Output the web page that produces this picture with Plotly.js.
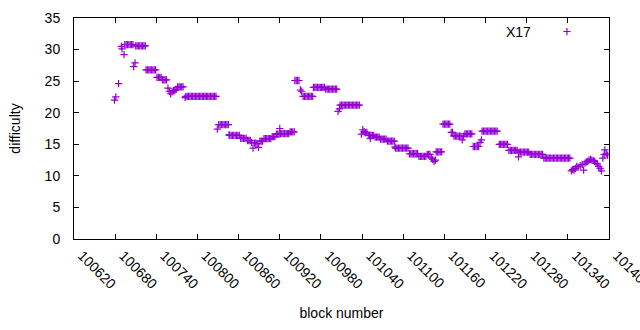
<!DOCTYPE html>
<html>
<head>
<meta charset="utf-8">
<script src="https://cdn.plot.ly/plotly-3.0.1.min.js"></script>
<style>html,body{margin:0;padding:0;background:#fff;}#chart{width:640px;height:330px;}</style>
</head>
<body>
<div id="chart"></div>
<script>
// block numbers (x) and difficulty (y)
var blocks = [
100679,100681,100685,100689,100690,100693,
100694,100696,100698,100700,100702,100704,100706,
100707,100709,
100710,100712,100714,100716,100718,100720,100722,100724,
100725,100727,100729,100731,100733,100735,100737,100739,
100741,100743,100745,100747,
100749,100751,100753,100755,
100757,100759,100761,100763,100765,100767,100769,
100771,100773,100775,100777,100779,
100782,
100783,100785,100787,100789,100791,100793,100795,100797,100799,100801,100803,100805,100807,100809,100811,100813,100815,100817,100819,100821,100823,100825,100827,
100829,
100831,100833,100835,100837,100839,100841,100843,100845,
100846,
100847,100849,100851,100853,100855,100857,100859,100861,
100863,100865,100867,100869,100871,
100873,100875,100877,100879,100881,100883,100885,100887,100889,100891,100893,100895,
100897,100899,100901,100903,100905,100907,
100909,100911,100913,
100915,100917,100919,100920,
100921,100923,100925,100927,100929,100931,100933,
100935,100937,100939,100941,
100942,100944,100946,100948,
100950,100952,
100954,100956,100958,100960,100962,100964,100966,100968,
100969,100971,100973,100975,100977,100979,100981,100983,100985,
100987,100989,100991,100993,100995,100997,100999,101001,101003,
101005,101007,
101008,101010,101012,101014,101016,101018,101020,101022,101024,101026,101028,101030,101032,101034,101036,
101039,101041,101043,101045,101047,
101049,101051,101052,101053,101055,101057,
101059,101061,101063,101065,
101067,101069,101071,101073,101075,
101077,101079,101081,101083,101085,101087,101088,
101089,101091,101093,101095,101097,101099,101101,101103,101105,101107,
101109,101111,101113,101115,101117,101119,101121,
101123,101125,101127,101129,101131,101133,
101135,101137,101139,
101141,101143,101145,101147,
101148,101150,101152,101154,101156,
101158,101160,101162,101164,101166,101168,
101170,101172,
101174,101176,101178,101180,101182,101184,101186,101188,
101190,101192,101194,101196,101198,101200,
101202,101204,101206,101208,101210,101212,101214,
101215,101217,101219,101221,101223,101225,101227,101229,101231,101233,101235,101237,
101240,101242,101244,101246,101248,101250,101252,
101254,101256,101258,101260,101262,101264,101266,
101268,
101269,101271,101273,101275,101277,101279,101281,101283,
101285,101287,101289,101291,101293,101295,101297,101299,101301,101303,
101305,101307,101309,101311,101313,101315,101317,101319,101321,101323,101325,101327,101329,101331,101333,101335,101337,101339,101341,101343,
101345,101347,101349,101351,101353,101355,101358,101361,101363,
101365,101367,101369,101371,101373,101375,101377,101379,101381,101383,101385,101387,101389,
101391,101393,101394,101396,101398
];
var difficulty = [
22.0,22.5,24.6,30.5,30.1,29.2,
30.8,30.8,30.8,30.8,30.8,30.8,30.8,
27.3,27.9,
30.6,30.6,30.6,30.6,30.6,30.6,30.6,30.6,
26.8,26.8,26.8,26.8,26.8,26.8,26.8,26.8,
25.6,25.6,25.6,25.6,
25.2,25.2,25.2,25.2,
23.9,23.4,23.0,23.3,23.5,23.5,23.7,
24.1,24.1,24.1,24.1,24.1,
22.4,
22.6,22.6,22.6,22.6,22.6,22.6,22.6,22.6,22.6,22.6,22.6,22.6,22.6,22.6,22.6,22.6,22.6,22.6,22.6,22.6,22.6,22.6,22.6,
17.4,
18.1,18.1,18.1,18.1,18.1,18.1,18.1,18.1,
16.5,
16.4,16.4,16.4,16.4,16.4,16.4,16.4,16.4,
15.95,15.95,15.95,15.95,15.95,
15.6,15.6,15.6,15.3,14.4,15.2,15.2,15.1,14.5,15.5,15.5,15.5,
15.9,15.9,15.9,15.9,15.9,15.9,
16.2,16.2,16.2,
16.6,16.6,16.6,17.5,
16.7,16.7,16.7,16.7,16.7,16.7,16.7,
16.95,16.95,16.95,16.95,
25.1,25.1,25.1,25.1,
23.6,23.4,
22.6,22.6,22.6,22.6,22.6,22.6,22.6,22.6,
24.0,24.0,24.0,24.0,24.0,24.0,24.0,24.0,24.0,
23.75,23.75,23.75,23.75,23.75,23.75,23.75,23.75,23.75,
20.2,20.6,
21.2,21.2,21.2,21.2,21.2,21.2,21.2,21.2,21.2,21.2,21.2,21.2,21.2,21.2,21.2,
16.6,17.3,17.0,16.8,16.9,
16.4,16.4,15.9,16.4,16.4,16.4,
16.15,16.15,16.15,16.15,
15.8,15.8,15.8,15.8,15.8,
15.5,15.5,15.5,15.5,15.5,15.5,14.6,
14.4,14.4,14.4,14.4,14.4,14.4,14.4,14.4,14.4,14.4,
13.5,13.5,13.5,13.5,13.5,13.5,13.5,
13.1,13.1,13.1,13.1,13.1,13.1,
13.4,13.4,13.4,
12.8,12.6,12.3,12.5,
13.8,13.8,13.8,13.8,13.8,
18.2,18.2,18.2,18.2,18.2,18.2,
16.9,16.9,
16.3,16.3,16.3,16.3,16.3,16.3,15.7,16.3,
16.65,16.65,16.65,16.65,16.65,16.65,
14.65,14.65,14.65,14.65,14.65,15.3,15.7,
17.1,17.1,17.1,17.1,17.1,17.1,17.1,17.1,17.1,17.1,17.1,17.1,
15.0,15.0,15.0,15.0,15.0,15.0,15.0,
14.05,14.05,14.05,14.05,14.05,14.05,14.05,
13.0,
13.75,13.75,13.75,13.75,13.75,13.75,13.75,13.75,
13.4,13.4,13.4,13.4,13.4,13.4,13.4,13.4,13.4,13.4,
12.8,12.8,12.8,12.8,12.8,12.8,12.8,12.8,12.8,12.8,12.8,12.8,12.8,12.8,12.8,12.8,12.8,12.8,12.8,12.8,
10.8,11.0,10.9,11.2,11.5,11.4,11.6,11.8,10.9,
12.0,12.2,12.3,12.5,12.6,12.5,12.4,12.3,12.0,11.9,11.5,11.2,10.8,
12.8,13.4,14.1,13.5,13.3
];
var seriesName = "X17";
var xTicks = [100620,100680,100740,100800,100860,100920,100980,101040,101100,101160,101220,101280,101340,101400];
var yTicks = [0,5,10,15,20,25,30,35];

var fontFam = "Liberation Sans, Arial, sans-serif";
var trace = {
  x: blocks, y: difficulty, type: "scatter", mode: "markers", name: " ",
  marker: {symbol: "cross-thin", size: 5.2, color: "#9400D3",
           line: {color: "#9400D3", width: 1.2}},
  hoverinfo: "x+y", showlegend: true, cliponaxis: true
};
var axisCommon = {
  showline: true, linecolor: "#000", linewidth: 1, mirror: "allticks",
  ticks: "inside", ticklen: 5, tickcolor: "#000", tickwidth: 1,
  showgrid: false, zeroline: false,
  tickfont: {family: fontFam, size: 14, color: "#000"}
};
var layout = {
  width: 640, height: 330,
  margin: {l: 74, r: 31, t: 18, b: 91, pad: 0},
  paper_bgcolor: "#fff", plot_bgcolor: "#fff",
  font: {family: fontFam, size: 14, color: "#000"},
  xaxis: Object.assign({}, axisCommon, {
    range: [xTicks[0], xTicks[xTicks.length - 1]],
    tickmode: "array", tickvals: xTicks, ticktext: xTicks.map(String),
    tickangle: 45, ticklabelstandoff: 2, ticklabelshift: 8,
    ticklabeloverflow: "allow", automargin: false,
    title: {text: "block number", font: {family: fontFam, size: 14, color: "#000"}, standoff: 17}
  }),
  yaxis: Object.assign({}, axisCommon, {
    range: [yTicks[0], yTicks[yTicks.length - 1]],
    tickmode: "array", tickvals: yTicks, ticktext: yTicks.map(String),
    ticklabelstandoff: 10, automargin: false,
    title: {text: "difficulty", font: {family: fontFam, size: 14, color: "#000"}, standoff: 20}
  }),
  showlegend: true,
  legend: {x: 0.884, y: 0.937, xanchor: "left", yanchor: "middle",
           bgcolor: "rgba(0,0,0,0)", borderwidth: 0,
           font: {family: fontFam, size: 14, color: "#000"}},
  annotations: [{
    text: seriesName, xref: "paper", yref: "paper", x: 0.858, y: 0.937,
    xanchor: "right", yanchor: "middle", showarrow: false,
    font: {family: fontFam, size: 14, color: "#000"}
  }]
};
Plotly.newPlot("chart", [trace], layout, {displayModeBar: false, staticPlot: true});
</script>
</body>
</html>
